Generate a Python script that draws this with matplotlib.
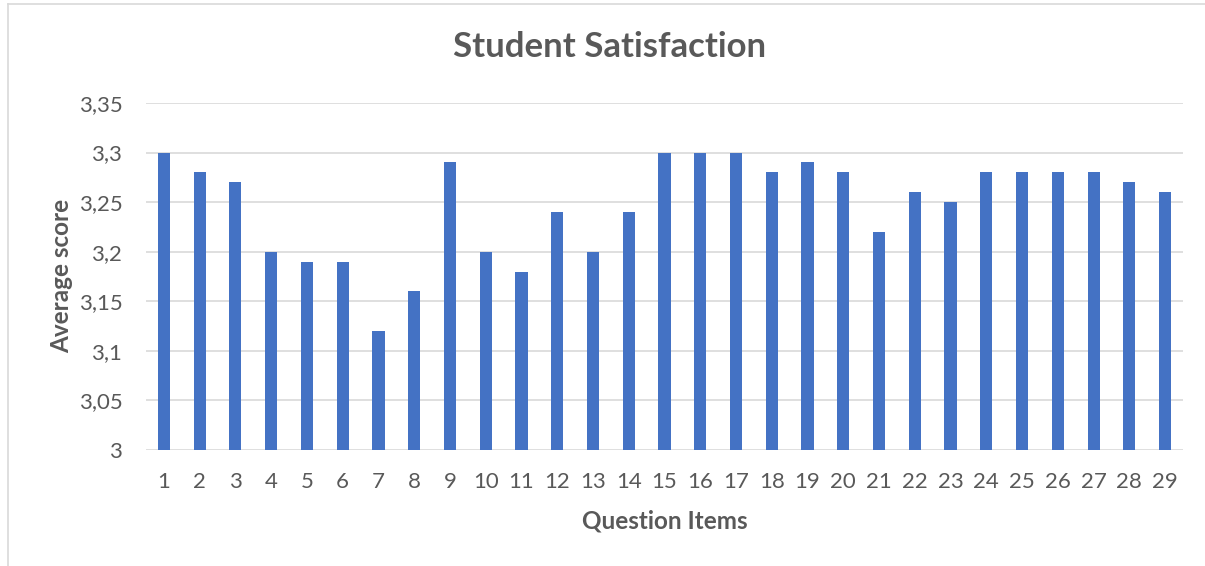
import numpy as np
import matplotlib.pyplot as plt
from matplotlib.lines import Line2D

plt.rcParams['font.family'] = ['Lato', 'DejaVu Sans']

# data
items = list(range(1, 30))
scores = [3.30, 3.28, 3.27, 3.20, 3.19, 3.19, 3.12, 3.16, 3.29, 3.20,
          3.18, 3.24, 3.20, 3.24, 3.30, 3.30, 3.30, 3.28, 3.29, 3.28,
          3.22, 3.26, 3.25, 3.28, 3.28, 3.28, 3.28, 3.27, 3.26]
yticks = [3.0, 3.05, 3.1, 3.15, 3.2, 3.25, 3.3, 3.35]
ytick_labels = ['3', '3,05', '3,1', '3,15', '3,2', '3,25', '3,3', '3,35']

W, H = 1205, 566
fig = plt.figure(figsize=(W / 100, H / 100), dpi=100)
ax = fig.add_axes([146 / W, 1 - 450 / H, (1183 - 146) / W, (450 - 103) / H])

gray = '#595959'
ax.bar(items, np.array(scores) - 3.0, bottom=3.0, width=0.34, color='#4472C4', zorder=3)

ax.set_xlim(0.5, 29.5)
ax.set_ylim(3.0, 3.35)
ax.set_yticks(yticks)
ax.set_yticklabels(ytick_labels)
ax.set_xticks(items)
ax.set_xticklabels([str(i) for i in items])
ax.grid(axis='y', color='#D9D9D9', linewidth=1.2, zorder=0)
for s in ax.spines.values():
    s.set_visible(False)
ax.tick_params(axis='both', length=0, labelsize=16, colors=gray)
ax.tick_params(axis='x', pad=16)
ax.tick_params(axis='y', pad=17)

fig.text(610 / W, 1 - 47 / H, 'Student Satisfaction', ha='center', va='center',
         fontsize=25, fontweight='bold', color=gray)
fig.text(665 / W, 1 - 521 / H, 'Question Items', ha='center', va='center',
         fontsize=17.5, fontweight='bold', color=gray)
fig.text(62 / W, 1 - 276 / H, 'Average score', ha='center', va='center',
         rotation=90, fontsize=17.5, fontweight='bold', color=gray)

# thin outer frame of the chart area (top and left edges visible)
fig.add_artist(Line2D([8 / W, 1], [1 - 3.5 / H, 1 - 3.5 / H], transform=fig.transFigure,
                      color='#D9D9D9', linewidth=1.2))
fig.add_artist(Line2D([8 / W, 8 / W], [0, 1 - 3.5 / H], transform=fig.transFigure,
                      color='#D9D9D9', linewidth=1.2))

fig.savefig('out.png', dpi=100)
